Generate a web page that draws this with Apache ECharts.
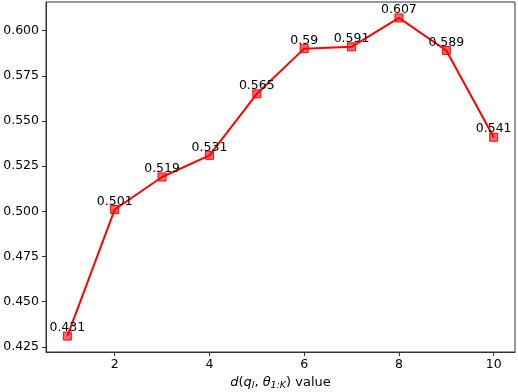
<!DOCTYPE html>
<html>
<head>
<meta charset="utf-8">
<script src="https://cdn.jsdelivr.net/npm/echarts@6/dist/echarts.min.js"></script>
<style>
  html, body { margin: 0; padding: 0; background: #fff; }
  #main { width: 518px; height: 392px; }
</style>
</head>
<body>
<div id="main"></div>
<script>
// x positions and the measured values
const xValues = [1, 2, 3, 4, 5, 6, 7, 8, 9, 10];
const scores = [0.431, 0.501, 0.519, 0.531, 0.565, 0.59, 0.591, 0.607, 0.589, 0.541];
const xTicks = [2, 4, 6, 8, 10];
const yTicks = [0.425, 0.45, 0.475, 0.5, 0.525, 0.55, 0.575, 0.6];

const font = 'DejaVu Sans';
const axisColor = '#333';
const fs = 12.5;

const chart = echarts.init(document.getElementById('main'));
const option = {
    animation: false,
    grid: {
        left: 46,
        right: 3,
        top: 2,
        bottom: 40,
        outerBoundsMode: 'none',
        containLabel: false,
        show: true,
        borderColor: axisColor,
        borderWidth: 1
    },
    xAxis: {
        type: 'value',
        min: 0.55,
        max: 10.45,
        name: '{i|d}({i|q}{s|l}, {i|θ}{s|1:K}) value',
        nameLocation: 'middle',
        nameGap: 23,
        nameTextStyle: {
            color: '#000',
            fontFamily: font,
            fontSize: 13,
            rich: {
                i: { fontStyle: 'italic', fontFamily: font, fontSize: 13, color: '#000' },
                s: { fontStyle: 'italic', fontFamily: font, fontSize: 9.5, color: '#000', padding: [6, 0, 0, 0] }
            }
        },
        axisLine: { lineStyle: { color: axisColor, width: 1 } },
        axisTick: { customValues: xTicks, length: 4, lineStyle: { color: axisColor } },
        axisLabel: { customValues: xTicks, color: '#000', fontFamily: font, fontSize: fs, margin: 6 },
        splitLine: { show: false }
    },
    yAxis: {
        type: 'value',
        min: 0.4222,
        max: 0.6158,
        axisLine: { show: true, lineStyle: { color: axisColor, width: 1 } },
        axisTick: { show: true, customValues: yTicks, length: 4, lineStyle: { color: axisColor } },
        axisLabel: {
            customValues: yTicks,
            color: '#000',
            fontFamily: font,
            fontSize: fs,
            margin: 7,
            formatter: v => v.toFixed(3)
        },
        splitLine: { show: false }
    },
    series: [{
        type: 'line',
        data: xValues.map((x, i) => [x, scores[i]]),
        symbol: 'rect',
        symbolSize: 8,
        lineStyle: { color: '#ff0000', width: 2 },
        itemStyle: { color: 'rgba(255,0,0,0.6)', borderColor: '#ff0000', borderWidth: 1 },
        label: {
            show: true,
            position: 'top',
            distance: -3,
            color: '#000',
            fontFamily: font,
            fontSize: fs,
            formatter: p => String(p.value[1])
        }
    }]
};
chart.setOption(option);
</script>
</body>
</html>
